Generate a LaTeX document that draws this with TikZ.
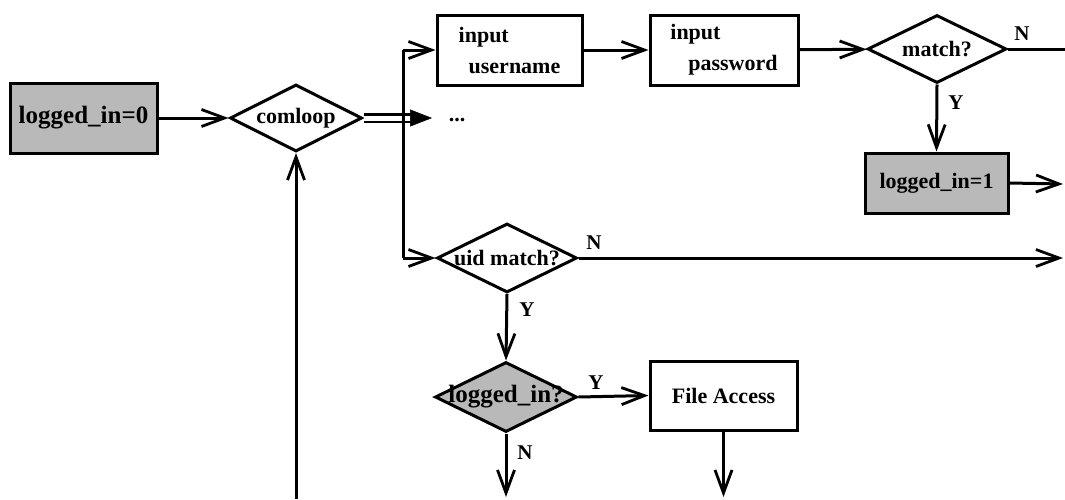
\documentclass[tikz,border=0pt]{standalone}
\usepackage{fontspec}
\setmainfont{Liberation Serif}
\usetikzlibrary{shapes.geometric,arrows.meta}

\begin{document}
\begin{tikzpicture}[x=1pt,y=-1pt,
  line width=3pt,
  font=\fontsize{22}{31}\selectfont\bfseries,
  flow/.style={-{Straight Barb[length=23pt,width=17pt,line width=2.8pt]}},
  proc/.style={draw, rectangle, inner sep=0pt, align=left},
  shade/.style={fill=gray!55},
  big/.style={font=\fontsize{25}{30}\selectfont\bfseries},
  dec/.style={draw, diamond, inner sep=0pt},
  tag/.style={inner sep=1pt, font=\fontsize{21}{24}\selectfont\bfseries}
]
\useasboundingbox (0,0) rectangle (1065,499);

% process boxes
\node[proc, shade, big, minimum width=147pt, minimum height=70pt] (init) at (83.5,118) {logged\_in=0};
\node[proc, minimum width=145pt, minimum height=70pt] (user) at (509.5,50) {input\\\hspace*{10pt}username};
\node[proc, minimum width=148pt, minimum height=70pt] (pass) at (724,50) {input\\\hspace*{18pt}password};
\node[proc, shade, minimum width=143pt, minimum height=60pt] (set) at (936.5,183) {logged\_in=1};
\node[proc, minimum width=147pt, minimum height=69pt] (file) at (723.5,395.5) {File Access};

% decisions
\node[dec, minimum width=132pt, minimum height=67pt, label=center:comloop] (com) at (296,118) {};
\node[dec, minimum width=139pt, minimum height=68pt, label=center:match?] (match) at (937,49) {};
\node[dec, minimum width=140pt, minimum height=69pt, label=center:uid match?] (uid) at (507,258) {};
\node[dec, shade, minimum width=142pt, minimum height=70pt, label={[big]center:logged\_in?}] (chk) at (506,397) {};

% branch points and free ends
\coordinate (jtop) at (403,50);
\coordinate (jbot) at (403,258);
\coordinate (fork) at (432,118);
\coordinate (forkb) at (410,118);
\coordinate (outN) at (1065,49);
\coordinate (outSet) at (1063,184);
\coordinate (outUid) at (1063,258);
\coordinate (downN) at (506,497);
\coordinate (downF) at (723.5,497);
\coordinate (back) at (296,499);

\node (more) at (457,120) {...};

% connectors
\draw[flow] (init) -- (com);
\draw[double, double distance=5pt, line width=2.2pt, shorten >=14pt] (com.east) -- (fork);
\draw[line width=0.5pt, -{Triangle[length=22pt,width=17pt]}] (forkb) -- (fork);
\draw (jtop) -- (jbot);
\draw[flow] (jtop) -- (user);
\draw[flow] (jbot) -- (uid);
\draw[flow] (user) -- (pass);
\draw[flow] (pass) -- (match);
\draw (match.east) -- (outN);
\draw[flow] (match.south) -- (set.north);
\draw[flow] (set.east) -- (outSet);
\draw[flow] (uid.east) -- (outUid);
\draw[flow] (uid.south) -- (chk.north);
\draw[flow] (chk.east) -- (file.west);
\draw[flow] (chk.south) -- (downN);
\draw[flow] (file.south) -- (downF);
\draw[flow] (back) -- (com.south);

% branch labels
\node[tag] (nMatch) at (1022,34) {N};
\node[tag] (yMatch) at (956,103) {Y};
\node[tag] (nUid) at (594,243) {N};
\node[tag] (yUid) at (527,310) {Y};
\node[tag] (yChk) at (596,383) {Y};
\node[tag] (nChk) at (525,453) {N};
\end{tikzpicture}
\end{document}
